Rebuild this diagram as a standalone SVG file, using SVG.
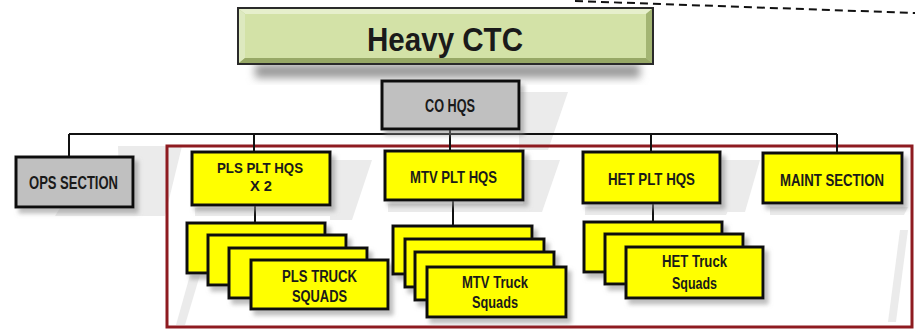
<svg xmlns="http://www.w3.org/2000/svg" width="915" height="330" viewBox="0 0 915 330">
  <defs>
    <filter id="ds" x="-10%" y="-20%" width="130%" height="150%">
      <feDropShadow dx="4" dy="5" stdDeviation="2" flood-color="#888" flood-opacity="0.55"/>
    </filter>
    <filter id="blur" x="-10%" y="-50%" width="120%" height="200%">
      <feGaussianBlur stdDeviation="4"/>
    </filter>
    <style>
      .box { stroke: #111; stroke-width: 3; filter: url(#ds); }
      .yel { fill: #ffff00; }
      .gry { fill: #c0c0c0; }
      .bg { fill: #ebebeb; }
      .t { font-family: "Liberation Sans Narrow", "Liberation Sans", Arial, sans-serif; font-weight: bold; fill: #1a1a1a; text-anchor: middle; }
      .conn { stroke: #111; stroke-width: 2; fill: none; }
    </style>
  </defs>
  <rect width="915" height="330" fill="#ffffff"/>

  <!-- faint perspective background shapes -->
  <g id="background">
    <polygon class="bg" points="118,146 182,146 165,216 55,216 60,208 120,208"/>
    <polygon class="bg" points="519,92 568,92 548,150 519,150"/>
    <polygon class="bg" points="330,160 372,160 352,220 330,220"/>
    <polygon class="bg" points="523,160 560,160 542,212 523,212"/>
    <polygon class="bg" points="720,160 760,160 745,212 720,212"/>
    <polygon class="bg" points="195,208 340,208 336,216 195,216"/>
    <polygon class="bg" points="388,204 535,204 531,212 388,212"/>
    <polygon class="bg" points="585,207 730,207 726,215 585,215"/>
    <polygon class="bg" points="770,207 908,207 904,215 770,215"/>
    <polygon class="bg" points="190,275 200,275 185,325 176,325"/>
    <polygon class="bg" points="900,230 908,230 896,322 888,322"/>
  </g>

  <!-- dashed line at top right -->
  <line x1="575" y1="1" x2="915" y2="13" stroke="#111" stroke-width="2" stroke-dasharray="8,5"/>

  <!-- title -->
  <g id="title">
    <rect x="255" y="64" width="385" height="14" fill="#9a9a9a" filter="url(#blur)"/>
    <rect x="238" y="8" width="415" height="56" fill="#b7c98c" stroke="#2a2a2a" stroke-width="2"/>
    <polygon points="239,9 652,9 646,14 245,14" fill="#e6efcc"/>
    <polygon points="239,9 245,14 245,58 239,63" fill="#dde9bf"/>
    <polygon points="239,63 245,58 646,58 652,63" fill="#97a866"/>
    <polygon points="652,9 652,63 646,58 646,14" fill="#a3b573"/>
    <rect x="245" y="14" width="401" height="44" fill="#d3e2a7"/>
    <text class="t" x="445" y="51" font-size="33" textLength="156" lengthAdjust="spacingAndGlyphs" fill="#111">Heavy CTC</text>
  </g>

  <!-- container -->
  <rect id="container" x="167" y="146" width="745" height="181" fill="none" stroke="#8e1b20" stroke-width="3"/>

  <!-- connectors -->
  <g id="connectors">
    <line class="conn" x1="450" y1="129" x2="450" y2="134"/>
    <line class="conn" x1="69" y1="134" x2="837" y2="134"/>
    <line class="conn" x1="69" y1="134" x2="69" y2="157"/>
    <line class="conn" x1="254" y1="134" x2="254" y2="152"/>
    <line class="conn" x1="450" y1="134" x2="450" y2="151"/>
    <line class="conn" x1="651" y1="134" x2="651" y2="152"/>
    <line class="conn" x1="837" y1="134" x2="837" y2="153"/>
    <line class="conn" x1="255" y1="205" x2="255" y2="223"/>
    <line class="conn" x1="453" y1="200" x2="453" y2="226"/>
    <line class="conn" x1="653" y1="203" x2="653" y2="222"/>
  </g>

  <g id="co-hqs">
    <rect class="box gry" x="382" y="81" width="137" height="48"/>
    <text class="t" x="450" y="112" font-size="18" textLength="50" lengthAdjust="spacingAndGlyphs" fill="#2a2a2a">CO HQS</text>
  </g>

  <g id="ops-section">
    <rect class="box gry" x="16" y="157" width="117" height="50"/>
    <text class="t" x="73.5" y="189" font-size="18" textLength="89" lengthAdjust="spacingAndGlyphs" fill="#2a2a2a">OPS SECTION</text>
  </g>

  <g id="pls-plt-hqs">
    <rect class="box yel" x="192" y="152" width="138" height="53"/>
    <text class="t" x="260" y="173" font-size="15" textLength="86" lengthAdjust="spacingAndGlyphs">PLS PLT HQS</text>
    <text class="t" x="261" y="191" font-size="15" textLength="22" lengthAdjust="spacingAndGlyphs">X 2</text>
  </g>

  <g id="mtv-plt-hqs">
    <rect class="box yel" x="385" y="151" width="138" height="49"/>
    <text class="t" x="453.5" y="183" font-size="17" textLength="87" lengthAdjust="spacingAndGlyphs">MTV PLT HQS</text>
  </g>

  <g id="het-plt-hqs">
    <rect class="box yel" x="583" y="152" width="137" height="51"/>
    <text class="t" x="651.5" y="185" font-size="17" textLength="87" lengthAdjust="spacingAndGlyphs">HET PLT HQS</text>
  </g>

  <g id="maint-section">
    <rect class="box yel" x="763" y="153" width="139" height="50"/>
    <text class="t" x="832" y="186" font-size="16" textLength="104" lengthAdjust="spacingAndGlyphs">MAINT SECTION</text>
  </g>

  <g id="pls-truck-squads">
    <rect class="box yel" x="187" y="223" width="138" height="50"/>
    <rect class="box yel" x="208" y="235" width="138" height="50"/>
    <rect class="box yel" x="229" y="248" width="138" height="50"/>
    <rect class="box yel" x="251" y="260" width="137" height="49"/>
    <text class="t" x="319.5" y="282" font-size="16" textLength="75" lengthAdjust="spacingAndGlyphs">PLS TRUCK</text>
    <text class="t" x="319.5" y="302" font-size="16" textLength="55" lengthAdjust="spacingAndGlyphs">SQUADS</text>
  </g>

  <g id="mtv-truck-squads">
    <rect class="box yel" x="393" y="226" width="139" height="48"/>
    <rect class="box yel" x="405" y="239" width="139" height="48"/>
    <rect class="box yel" x="415" y="252" width="139" height="48"/>
    <rect class="box yel" x="427" y="267" width="139" height="50"/>
    <text class="t" x="495" y="288" font-size="16" textLength="66" lengthAdjust="spacingAndGlyphs">MTV Truck</text>
    <text class="t" x="495" y="308" font-size="16" textLength="46" lengthAdjust="spacingAndGlyphs">Squads</text>
  </g>

  <g id="het-truck-squads">
    <rect class="box yel" x="584" y="222" width="138" height="50"/>
    <rect class="box yel" x="605" y="234" width="138" height="50"/>
    <rect class="box yel" x="626" y="247" width="137" height="51"/>
    <text class="t" x="694.5" y="267" font-size="16" textLength="65" lengthAdjust="spacingAndGlyphs">HET Truck</text>
    <text class="t" x="694.5" y="289" font-size="16" textLength="45" lengthAdjust="spacingAndGlyphs">Squads</text>
  </g>
</svg>
